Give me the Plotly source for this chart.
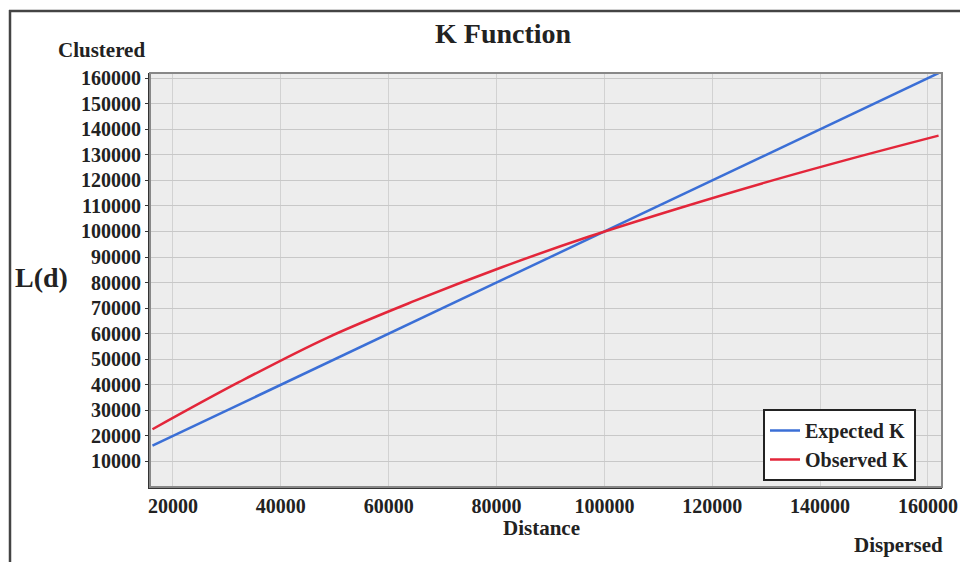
import plotly.graph_objects as go

distance = [16196, 32393, 48589, 64785, 80982, 97178, 113374, 129571, 145767, 161963]
expected_k = [16196, 32393, 48589, 64785, 80982, 97178, 113374, 129571, 145767, 161963]
observed_k = [22600, 41200, 58400, 72800, 86000, 98000, 108800, 119000, 128500, 137500]

y_ticks = list(range(10000, 160001, 10000))
x_ticks = list(range(20000, 160001, 20000))

FONT = "Liberation Serif"
W, H = 960, 562
# plot area in reference pixel coords
PL, PR, PT, PB = 150, 942, 73, 487
L, R, T, B = PL, W - PR, PT, H - PB
pw, ph = W - L - R, H - T - B

def px(x):
    return (x - PL) / pw

def py(y):
    return (PB - y) / ph

bold = dict(family=FONT, color="#222", weight="bold")

fig = go.Figure()
fig.add_trace(go.Scatter(x=distance, y=expected_k, mode="lines", name="Expected K",
                         line=dict(color="#3b6fd6", width=2.5)))
fig.add_trace(go.Scatter(x=distance, y=observed_k, mode="lines", name="Observed K",
                         line=dict(color="#e3263a", width=2.5, shape="spline", smoothing=1.0)))

fig.update_layout(
    width=W, height=H,
    margin=dict(l=L, r=R, t=T, b=B, autoexpand=False),
    paper_bgcolor="white",
    plot_bgcolor="#ededed",
    font=dict(family=FONT, color="#222", size=20),
    showlegend=True,
    legend=dict(x=px(763), y=py(409), xanchor="left", yanchor="top",
                bgcolor="white", bordercolor="#222", borderwidth=2,
                font=dict(size=20, **bold),
                itemwidth=30, tracegroupgap=0),
    xaxis=dict(range=[15740, 162600], tickvals=x_ticks,
               ticktext=[str(v) for v in x_ticks],
               automargin=False,
               showgrid=True, gridcolor="#d2d2d2", gridwidth=1,
               showline=True, linecolor="#333", linewidth=2, mirror=False,
               ticks="", zeroline=False,
               tickfont=dict(size=20, **bold)),
    yaxis=dict(range=[0, 162000], tickvals=y_ticks,
               ticktext=[str(v) for v in y_ticks],
               automargin=False,
               showgrid=True, gridcolor="#c8c8c8", gridwidth=1,
               showline=True, linecolor="#333", linewidth=2,
               ticks="outside", ticklen=3, tickcolor="#333",
               zeroline=False,
               tickfont=dict(size=20, **bold)),
    shapes=[
        # outer frame: top and left edges (the rest lies outside the picture)
        dict(type="line", xref="paper", yref="paper",
             x0=px(9), x1=px(W), y0=py(11), y1=py(11),
             line=dict(color="#444", width=2.5), layer="below"),
        dict(type="line", xref="paper", yref="paper",
             x0=px(10), x1=px(10), y0=py(10), y1=py(H),
             line=dict(color="#444", width=2.5), layer="below"),
        dict(type="rect", xref="paper", yref="paper",
             x0=0, x1=1, y0=0, y1=1,
             line=dict(color="#888", width=2), fillcolor="rgba(0,0,0,0)"),
    ],
    annotations=[
        dict(text="K Function", x=px(503), y=py(33), xref="paper", yref="paper",
             xanchor="center", yanchor="middle",
             showarrow=False, font=dict(size=28, **bold)),
        dict(text="Clustered", x=px(101), y=py(50), xref="paper", yref="paper",
             xanchor="center", yanchor="middle",
             showarrow=False, font=dict(size=21, **bold)),
        dict(text="L(d)", x=px(41), y=py(277), xref="paper", yref="paper",
             xanchor="center", yanchor="middle",
             showarrow=False, font=dict(size=28, **bold)),
        dict(text="Distance", x=px(541), y=py(528), xref="paper", yref="paper",
             xanchor="center", yanchor="middle",
             showarrow=False, font=dict(size=21, **bold)),
        dict(text="Dispersed", x=px(898), y=py(545), xref="paper", yref="paper",
             xanchor="center", yanchor="middle",
             showarrow=False, font=dict(size=21, **bold)),
    ],
)

fig.write_html(
    "out.html",
    config={"displayModeBar": False},
    post_script=(
        "document.documentElement.style.overflow='hidden';"
        "document.body.style.margin='0';"
        "document.body.style.overflow='hidden';"
    ),
)
